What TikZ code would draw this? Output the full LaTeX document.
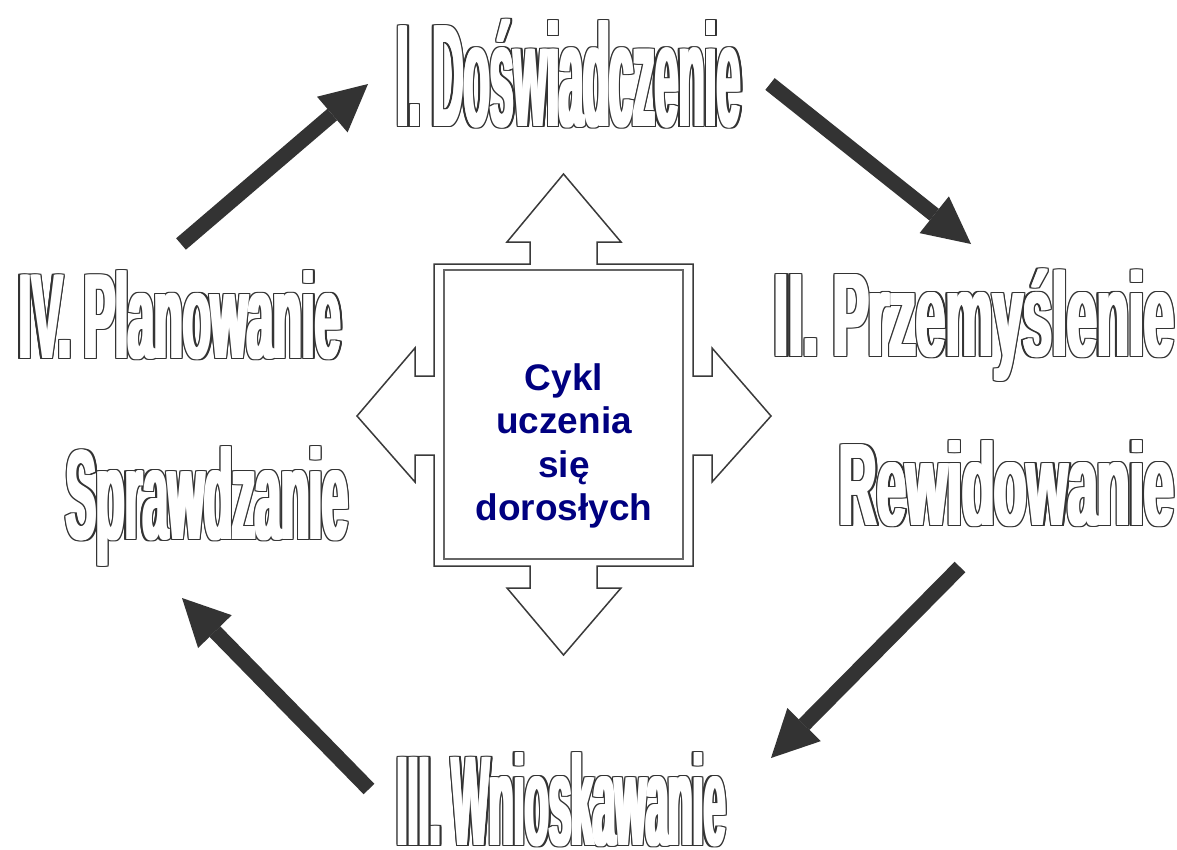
\documentclass[tikz,border=0pt]{standalone}
\usepackage{fontspec}
\setmainfont{Liberation Sans}
\usetikzlibrary{arrows.meta}
\definecolor{olc}{HTML}{333333}
\definecolor{arrc}{HTML}{333333}
\definecolor{framec}{HTML}{3A3A3A}
\definecolor{innerc}{HTML}{666666}
\definecolor{navyc}{HTML}{000080}
\newsavebox\olboxA
\newcommand\olt[3]{%
  \def\oltext{\fontsize{#1}{#1}\selectfont\bfseries #3}%
  \sbox\olboxA{\oltext}%
  \pgfmathsetmacro\olsx{#2/\the\wd\olboxA}%
  \scalebox{\olsx}[1]{\hbox{%
    \color{olc}%
    \foreach \dx in {-3,-2,-1,0,1,2,3}{\pgfmathsetmacro\kx{\dx/\olsx}\foreach \dy in {-1.2,0,1.2}{\rlap{\kern\kx pt\raise\dy pt\hbox{\oltext}}}}%
    \color{white}%
    \foreach \dx in {-1.8,-0.9,0,0.9,1.8}{\pgfmathsetmacro\kx{\dx/\olsx}\rlap{\kern\kx pt\hbox{\oltext}}}%
    \hphantom{\oltext}}}}
\begin{document}
\begin{tikzpicture}[x=1pt,y=-1pt,
  bigarrow/.style={draw=arrc, line width=15pt, -{Triangle[width=47pt,length=47pt,line width=0pt]}},
  lbl/.style={inner sep=0pt, outer sep=0pt, anchor=base west},
  frame/.style={draw=framec, line width=1.5pt, line join=miter, fill=white},
  innerbox/.style={draw=innerc, line width=1.5pt, minimum width=239pt, minimum height=289pt, inner sep=0pt},
  ctext/.style={text=navyc, font=\bfseries\fontsize{37}{43.5}\selectfont, align=center, inner sep=0pt}]
\useasboundingbox[fill=white] (0,0) rectangle (1177,849);

% outline labels
\node[lbl] (l1) at (397,126.5) {\olt{146}{344}{I. Doświadczenie}};
\node[lbl] (l2) at (774,356.5) {\olt{119}{400}{II. Przemyślenie}};
\node[lbl] (l2b) at (839,525.5) {\olt{117}{335}{Rewidowanie}};
\node[lbl] (l3) at (397,845.5) {\olt{128}{329}{III. Wnioskawanie}};
\node[lbl] (l4) at (19,358.5) {\olt{121}{322}{IV. Planowanie}};
\node[lbl] (l4b) at (66,539.5) {\olt{128}{282}{Sprawdzanie}};

% center four-way arrow frame
\draw[frame] (434,264) -- (530,264) -- (530,242) -- (507,242) -- (563.5,174) -- (621,242) -- (597,242) -- (597,264)
  -- (693,264) -- (693,376) -- (712,376) -- (712,348) -- (771,416) -- (712,482) -- (712,455) -- (693,455)
  -- (693,566) -- (597,566) -- (597,588) -- (621,588) -- (563.5,655) -- (507,588) -- (530,588) -- (530,566)
  -- (434,566) -- (434,455) -- (415,455) -- (415,482) -- (357,416) -- (415,348) -- (415,376) -- (434,376) -- cycle;
\node[innerbox] (cbox) at (563.5,414.5) {};
\node[ctext] (ctitle) at (564,446) {Cykl\\uczenia\\się\\dorosłych};

% cycle arrows
\coordinate (a1s) at (181,244); \coordinate (a1e) at (368,84);
\coordinate (a2s) at (770,84);  \coordinate (a2e) at (971,244);
\coordinate (a3s) at (960,567); \coordinate (a3e) at (771,758);
\coordinate (a4s) at (369,789); \coordinate (a4e) at (182,598);
\draw[bigarrow] (a1s) -- (a1e);
\draw[bigarrow] (a2s) -- (a2e);
\draw[bigarrow] (a3s) -- (a3e);
\draw[bigarrow] (a4s) -- (a4e);
\end{tikzpicture}
\end{document}
